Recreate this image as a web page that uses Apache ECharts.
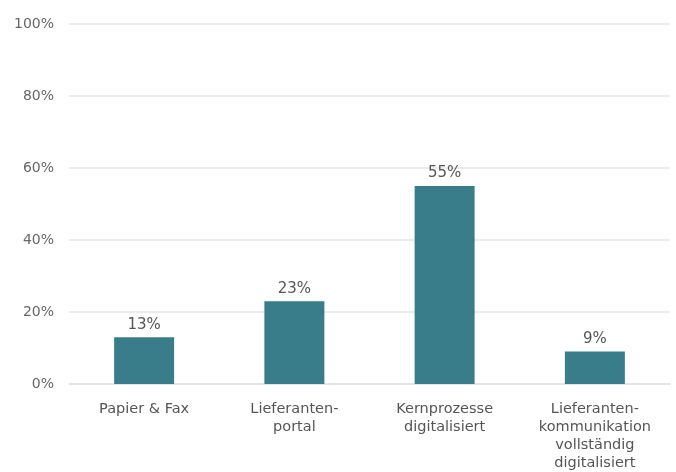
<!DOCTYPE html>
<html>
<head>
<meta charset="utf-8">
<script src="https://cdn.jsdelivr.net/npm/echarts@6/dist/echarts.min.js"></script>
<style>
html,body{margin:0;padding:0;background:#fff;}
#chart{width:676px;height:472px;}
</style>
</head>
<body>
<div id="chart"></div>
<script>
// Categories and shares (percent)
const categories = [
  'Papier & Fax',
  'Lieferanten-\nportal',
  'Kernprozesse\ndigitalisiert',
  'Lieferanten-\nkommunikation\nvollständig\ndigitalisiert'
];
const shares = [13, 23, 55, 9];

const chart = echarts.init(document.getElementById('chart'));
chart.setOption({
  animation: false,
  textStyle: { fontFamily: '"DejaVu Sans", sans-serif' },
  grid: { left: 69, right: 6, top: 24, bottom: 87 },
  xAxis: {
    type: 'category',
    data: categories,
    axisLine: { lineStyle: { color: '#e2e2e2', width: 1.5 } },
    axisTick: { show: false },
    axisLabel: { color: '#555', fontSize: 14.5, margin: 16, lineHeight: 18, interval: 0 }
  },
  yAxis: {
    type: 'value',
    min: 0, max: 100, interval: 20,
    axisLabel: { formatter: '{value}%', color: '#666', fontSize: 14, margin: 15 },
    splitLine: { lineStyle: { color: '#e4e4e4', width: 1.5 } },
    axisLine: { show: false },
    axisTick: { show: false }
  },
  series: [{
    type: 'bar',
    data: shares,
    barWidth: 60,
    itemStyle: { color: '#3a7d8a' },
    label: { show: true, position: 'top', formatter: '{c}%', color: '#555', fontSize: 15, distance: 5 }
  }]
});
</script>
</body>
</html>
